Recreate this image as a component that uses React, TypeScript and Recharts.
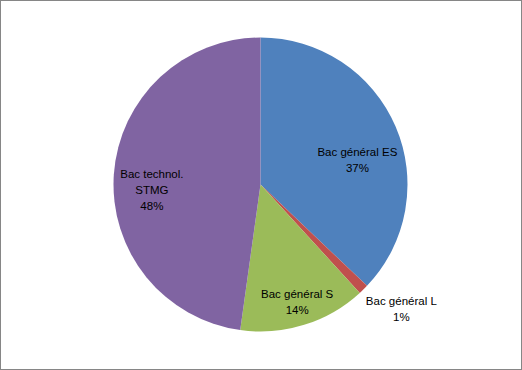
import { PieChart, Pie, Cell } from "recharts";

const categories = ["Bac général ES", "Bac général L", "Bac général S", "Bac technol.\nSTMG"];
const shares = [37.1, 1.1, 14.0, 47.8];
const colors = ["#4F81BD", "#C0504D", "#9BBB59", "#8064A2"];

// where each label sits: fraction of the radius, and a small angle nudge (deg)
const labelRadius = [0.68, 1.28, 0.84, 0.74];
const labelNudge = [-9, 4, 0, 7];

const data = categories.map((name, i) => ({ name, value: shares[i] }));

const RAD = Math.PI / 180;

function renderLabel(props: any) {
  const { cx, cy, outerRadius, midAngle, index, percent } = props;
  const a = (midAngle + labelNudge[index]) * RAD;
  const r = outerRadius * labelRadius[index];
  const x = cx + r * Math.cos(a);
  const y = cy - r * Math.sin(a);
  const lines = [...categories[index].split("\n"), `${Math.round(percent * 100)}%`];
  const lh = 16;
  const top = y - ((lines.length - 1) * lh) / 2;
  return (
    <text
      x={x}
      y={top}
      textAnchor="middle"
      dominantBaseline="central"
      fontSize={11.5}
      fontFamily="Liberation Sans, Arial, sans-serif"
      fill="#000"
    >
      {lines.map((l, j) => (
        <tspan key={j} x={x} y={top + j * lh}>
          {l}
        </tspan>
      ))}
    </text>
  );
}

export default function App() {
  return (
    <div
      style={{
        position: "absolute",
        left: 0,
        top: 0,
        width: 522,
        height: 370,
        background: "#fff",
        boxSizing: "border-box",
        border: "1px solid #868686",
      }}
    >
      <PieChart width={520} height={368} margin={{ top: 0, right: 0, bottom: 0, left: 0 }}>
        <Pie
          data={data}
          dataKey="value"
          nameKey="name"
          cx={259.5}
          cy={183.5}
          outerRadius={147}
          startAngle={90}
          endAngle={-270}
          stroke="none"
          labelLine={false}
          label={renderLabel}
          isAnimationActive={false}
        >
          {data.map((d, i) => (
            <Cell key={d.name} fill={colors[i]} />
          ))}
        </Pie>
      </PieChart>
    </div>
  );
}
